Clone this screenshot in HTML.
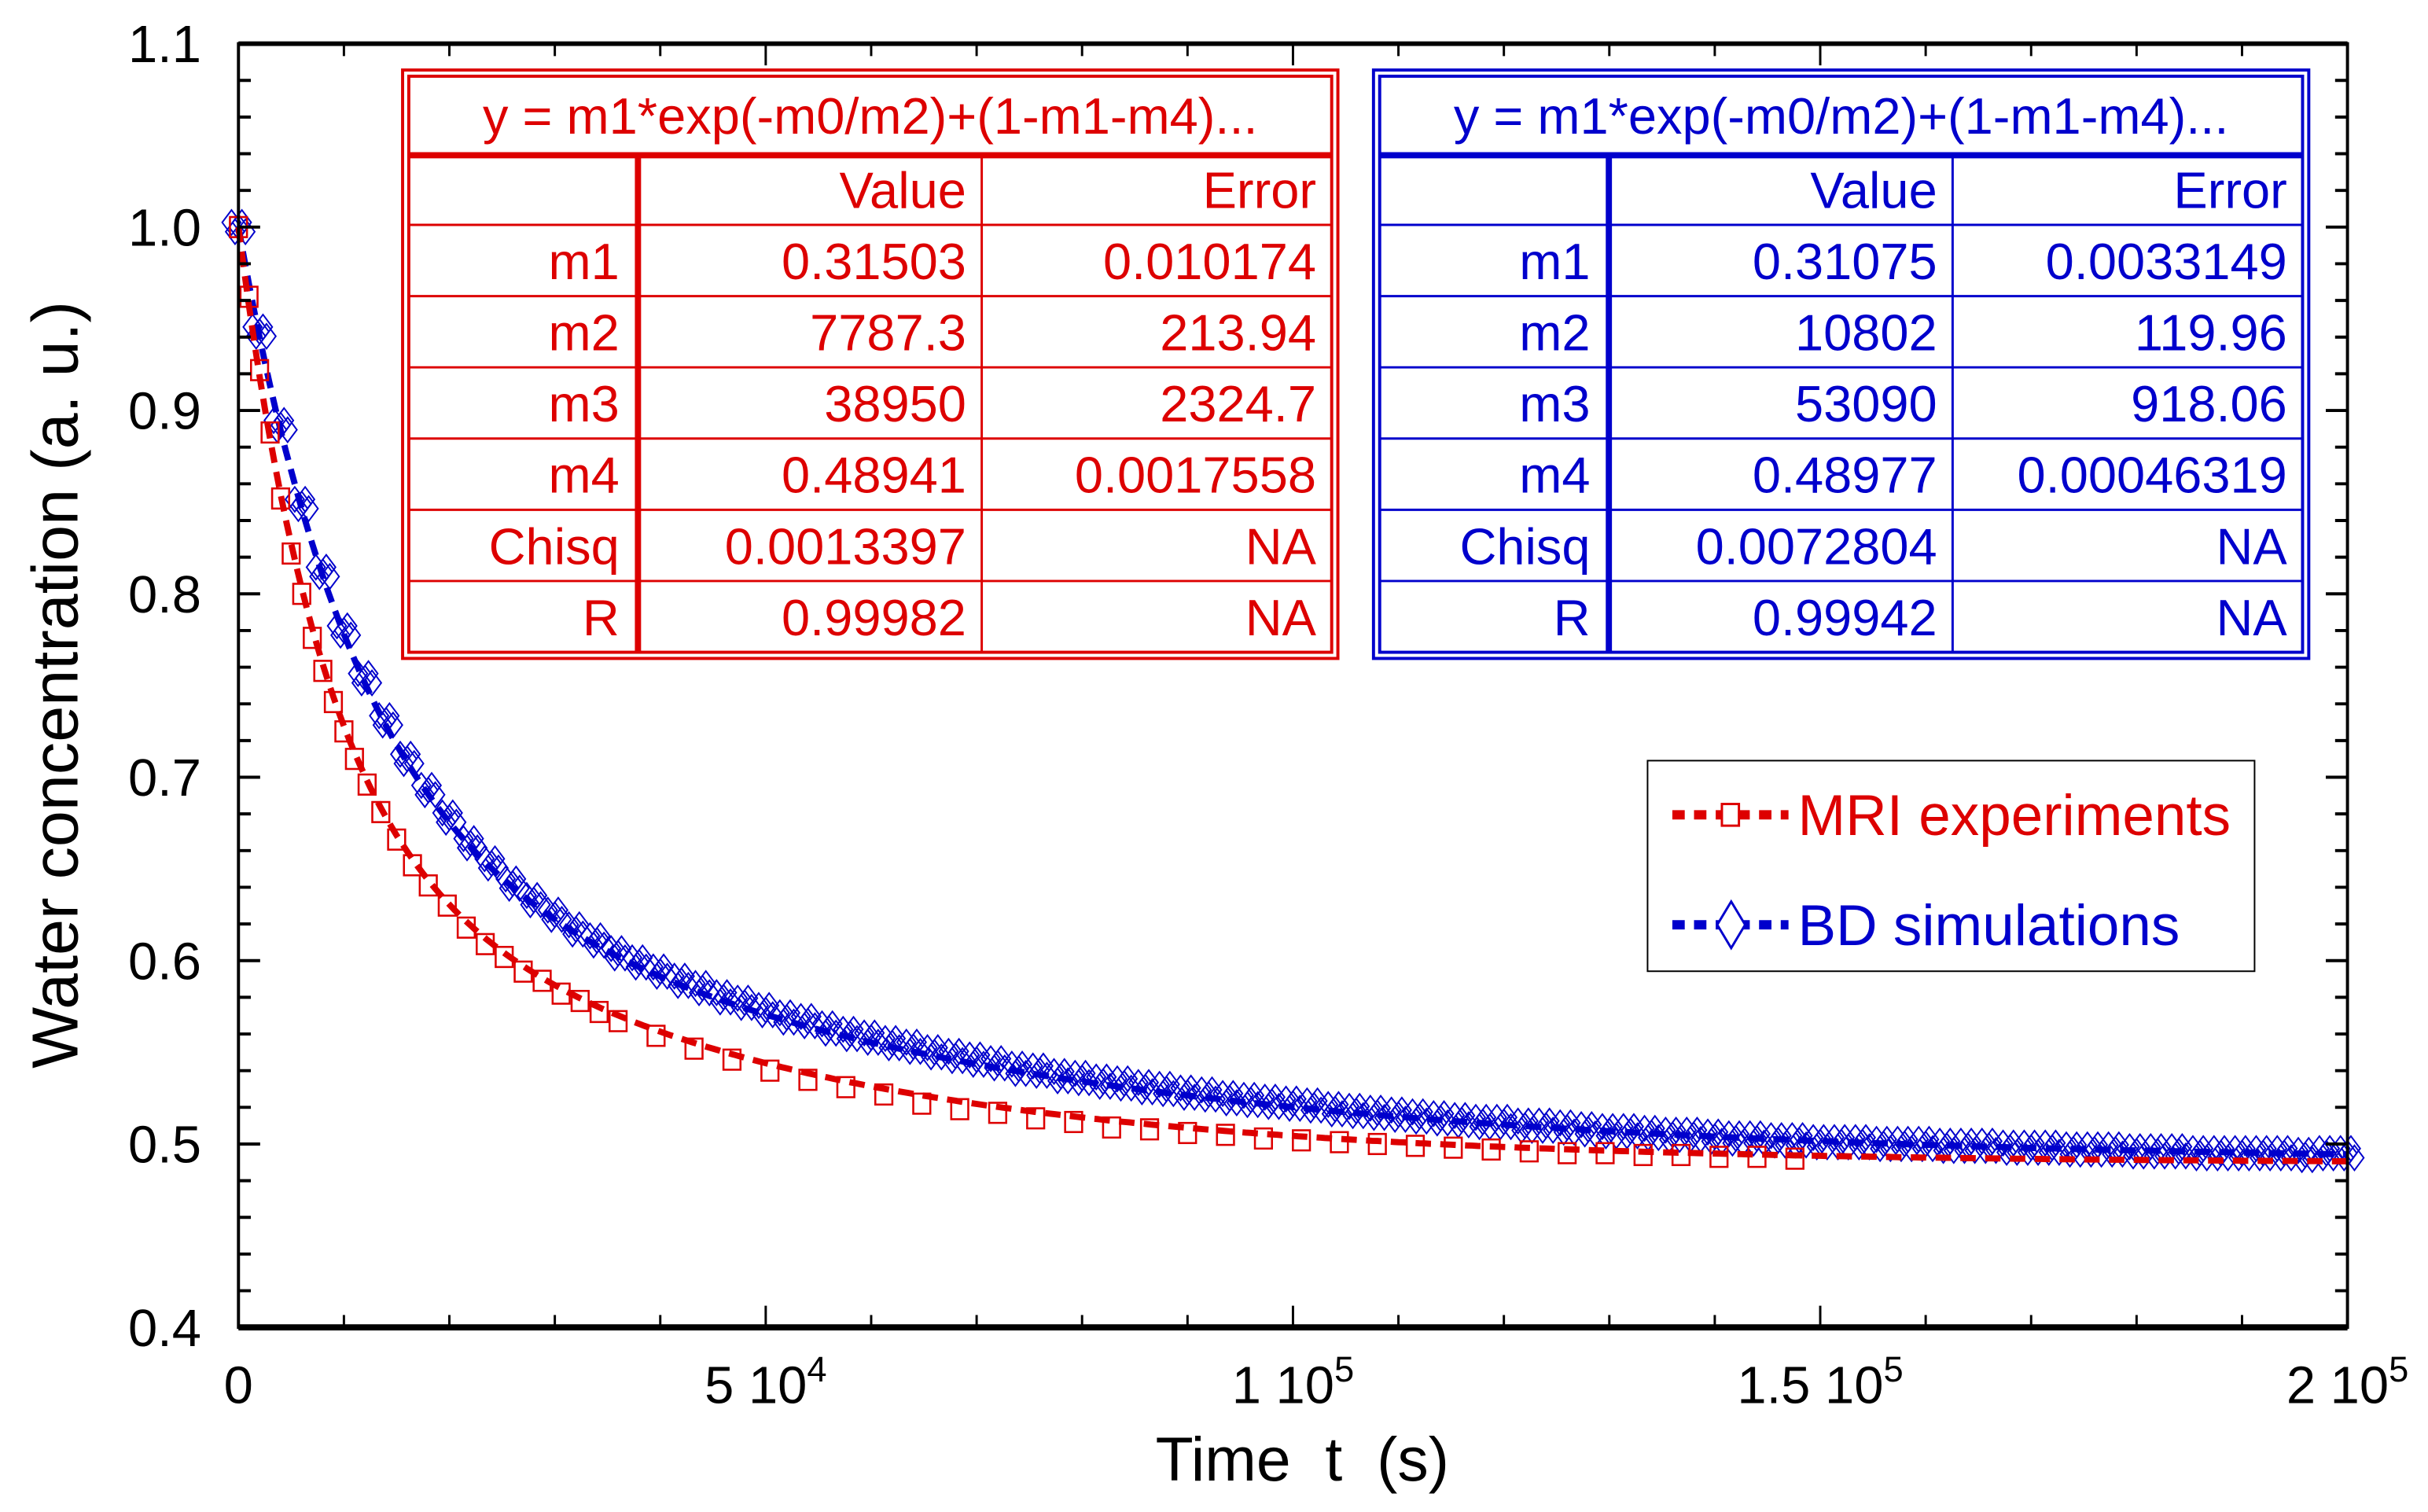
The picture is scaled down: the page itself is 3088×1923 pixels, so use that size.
<!DOCTYPE html>
<html><head><meta charset="utf-8"><style>
html,body{margin:0;padding:0;background:#fff;}
svg{display:block;font-family:"Liberation Sans",sans-serif;}
</style></head><body>
<svg id="chart" xmlns="http://www.w3.org/2000/svg" width="3088" height="1923" viewBox="0 0 1568 976">
<rect x="0" y="0" width="1568" height="976" fill="#fff"/>
<g id="marks"></g>
<g id="axes"></g>
<g id="tables"></g>
<g id="legend">
  <rect x="1064" y="491" width="392" height="136" fill="#fff" stroke="#000" stroke-width="1"/>
  <g>
    <line x1="1080" y1="526" x2="1155" y2="526" stroke="#dd0000" stroke-width="6" stroke-dasharray="8,6"/>
    <rect x="1112" y="519" width="11" height="14" fill="#fff" stroke="#dd0000" stroke-width="1.5"/>
    <text x="1161" y="539" font-size="37" fill="#dd0000">MRI experiments</text>
  </g>
  <g>
    <line x1="1080" y1="597" x2="1155" y2="597" stroke="#0000cc" stroke-width="6" stroke-dasharray="8,6"/>
    <path d="M1118 582 L1127 597 L1118 612 L1109 597 Z" fill="#fff" stroke="#0000cc" stroke-width="1.5"/>
    <text x="1161" y="610" font-size="37" fill="#0000cc">BD simulations</text>
  </g>
</g>
</svg>
<script>
// ---- data ----
const redTimes = [0,1000,2000,3000,4000,5000,6000,7000,8000,9000,10000,11000,12200,13500,15000,16500,18000,19800,21600,23400,25200,27000,28800,30600,32400,34200,36000,39600,43200,46800,50400,54000,57600,61200,64800,68400,72000,75600,79200,82800,86400,90000,93600,97200,100800,104400,108000,111600,115200,118800,122400,126000,129600,133200,136800,140400,144000,147600];
const redValues = [1.000,0.962,0.922,0.888,0.852,0.822,0.800,0.776,0.758,0.741,0.725,0.710,0.696,0.681,0.666,0.652,0.641,0.630,0.618,0.609,0.602,0.594,0.589,0.582,0.578,0.572,0.567,0.559,0.552,0.546,0.540,0.535,0.531,0.527,0.522,0.519,0.517,0.514,0.512,0.509,0.508,0.506,0.505,0.503,0.502,0.501,0.500,0.499,0.498,0.497,0.496,0.495,0.495,0.494,0.494,0.493,0.493,0.492];
const blueStep = 2000;
const blueValues = [1.000,0.943,0.892,0.849,0.812,0.780,0.754,0.731,0.710,0.693,0.678,0.664,0.653,0.642,0.633,0.625,0.617,0.611,0.604,0.599,0.594,0.589,0.585,0.580,0.577,0.573,0.569,0.567,0.563,0.560,0.558,0.555,0.553,0.550,0.548,0.546,0.544,0.541,0.540,0.537,0.536,0.534,0.533,0.531,0.530,0.528,0.527,0.525,0.524,0.523,0.522,0.521,0.519,0.518,0.517,0.516,0.515,0.514,0.513,0.512,0.512,0.510,0.510,0.509,0.508,0.507,0.507,0.506,0.505,0.505,0.504,0.503,0.503,0.502,0.502,0.501,0.501,0.501,0.500,0.500,0.500,0.499,0.499,0.499,0.498,0.498,0.498,0.497,0.497,0.497,0.496,0.496,0.496,0.495,0.495,0.495,0.495,0.495,0.494,0.495,0.495];
const redFit = [0.31503,7787.3,38950,0.48941];
const blueFit = [0.31075,10802,53090,0.48977];
const xTickValues = [0,50000,100000,150000,200000];
const xTickMain = ["0","5 10","1 10","1.5 10","2 10"];
const xTickExp = ["","4","5","5","5"];
const yTickValues = [0.4,0.5,0.6,0.7,0.8,0.9,1.0,1.1];
const yTickLabels = ["0.4","0.5","0.6","0.7","0.8","0.9","1.0","1.1"];
const tableRowLabels = ["m1","m2","m3","m4","Chisq","R"];
const redTableValues = ["0.31503","7787.3","38950","0.48941","0.0013397","0.99982"];
const redTableErrors = ["0.010174","213.94","2324.7","0.0017558","NA","NA"];
const blueTableValues = ["0.31075","10802","53090","0.48977","0.0072804","0.99942"];
const blueTableErrors = ["0.0033149","119.96","918.06","0.00046319","NA","NA"];

// ---- axes ----
const L=154,R=1516,T=28,B=857,XMAX=200000,YMIN=0.4,YMAX=1.1;
function X(t){return L+t/XMAX*(R-L);}
function Y(v){return B-(v-YMIN)/(YMAX-YMIN)*(B-T);}
const NS="http://www.w3.org/2000/svg";
function mk(tag,attrs,parent,text){const e=document.createElementNS(NS,tag);for(const k in attrs)e.setAttribute(k,attrs[k]);if(text!==undefined)e.textContent=text;parent.appendChild(e);return e;}
const RED="#dd0000",BLUE="#0000cc";
const marks=document.getElementById('marks');
function fit(p,t){return p[0]*Math.exp(-t/p[1])+(1-p[0]-p[3])*Math.exp(-t/p[2])+p[3];}
function fitPath(p){let d="";for(let t=0;t<=XMAX;t+=500){d+=(t?"L":"M")+X(t).toFixed(1)+" "+Y(fit(p,t)).toFixed(1);}return d;}

// blue series (each marker drawn as a small overlapping cluster to render the dense band)
const bg=mk('g',{},marks);


const cluster=[[-4.5,-3],[-2.2,3],[0,0],[2.2,-3],[4.5,3]];
blueValues.forEach((v,i)=>{const x0=X(i*blueStep),y0=Y(v);
  cluster.forEach(o=>{const x=x0+o[0],y=y0+o[1];
    const p=mk('path',{d:`M${x} ${y-8}L${x+6} ${y}L${x} ${y+8}L${x-6} ${y}Z`,fill:'none',stroke:BLUE,'stroke-width':1},bg);
    
    
  });
});
const bf=mk('path',{d:fitPath(blueFit),fill:'none',stroke:BLUE,'stroke-width':4,'stroke-dasharray':'10,6'},marks);



// red series
const rg=mk('g',{},marks);


redTimes.forEach((t,i)=>{const x=X(t),y=Y(redValues[i]);
  const r=mk('rect',{x:x-5.5,y:y-6.5,width:11,height:13,fill:'none',stroke:RED,'stroke-width':1.3},rg);
  
  
});
const rf=mk('path',{d:fitPath(redFit),fill:'none',stroke:RED,'stroke-width':4,'stroke-dasharray':'10,6'},marks);



const ax=document.getElementById('axes');
const frame=mk('rect',{x:L,y:T,width:R-L,height:B-T,fill:'none',stroke:'#000','stroke-width':2},ax);


const bl=mk('line',{x1:L,y1:B,x2:R,y2:B,stroke:'#000','stroke-width':4},ax);


const tl=mk('line',{x1:L,y1:T,x2:R,y2:T,stroke:'#000','stroke-width':3},ax);


for(let t=0;t<=XMAX;t+=10000){const x=X(t),len=(t%50000===0)?14:8;
  mk('line',{x1:x,y1:B,x2:x,y2:B-len,stroke:'#000','stroke-width':1.5},ax);
  mk('line',{x1:x,y1:T,x2:x,y2:T+len,stroke:'#000','stroke-width':1.5},ax);}
for(let k=0;k<=35;k++){const v=YMIN+k*0.02,y=Y(v),len=(k%5===0)?14:8;
  mk('line',{x1:L,y1:y,x2:L+len,y2:y,stroke:'#000','stroke-width':2},ax);
  mk('line',{x1:R,y1:y,x2:R-len,y2:y,stroke:'#000','stroke-width':2},ax);}
xTickValues.forEach((t,i)=>{const g=mk('text',{x:X(t),y:906,'font-size':34,'text-anchor':'middle',fill:'#000'},ax);
  
  
  mk('tspan',{},g,xTickMain[i]);
  if(xTickExp[i]){mk('tspan',{dy:-14,'font-size':23},g,xTickExp[i]);}
});
yTickValues.forEach((v,i)=>{const e=mk('text',{x:130,y:Y(v)+12,'font-size':34,'text-anchor':'end',fill:'#000'},ax,yTickLabels[i]);
  
  });
const xt=mk('text',{x:841,y:956,'font-size':40,'text-anchor':'middle',fill:'#000'},ax,'Time\u00a0\u00a0t\u00a0\u00a0(s)');


const yt=mk('text',{x:0,y:0,'font-size':42,'text-anchor':'middle',fill:'#000',transform:'translate(50,442) rotate(-90)'},ax,'Water concentration (a. u.)');



// ---- tables ----
const tb=document.getElementById('tables');
function table(x0,color,vals,errs,name){
  const g=mk('g',{},tb);
  
  
  const w=604,c1=x0+152,c2=x0+374,right=x0+w;
  mk('rect',{x:x0,y:45,width:w,height:380,fill:'#fff',stroke:color,'stroke-width':2},g);
  mk('rect',{x:x0+4,y:49,width:w-8,height:372,fill:'none',stroke:color,'stroke-width':2},g);
  mk('line',{x1:x0+4,y1:100,x2:right-4,y2:100,stroke:color,'stroke-width':4},g);
  mk('line',{x1:c1,y1:100,x2:c1,y2:421,stroke:color,'stroke-width':4},g);
  mk('line',{x1:c2,y1:100,x2:c2,y2:421,stroke:color,'stroke-width':1.5},g);
  const rows=[100,145,191,237,283,329,375,421];
  for(let i=1;i<rows.length-1;i++)mk('line',{x1:x0+4,y1:rows[i],x2:right-4,y2:rows[i],stroke:color,'stroke-width':1.5},g);
  mk('text',{x:x0+w/2,y:86,'font-size':33,'text-anchor':'middle',fill:color},g,'y = m1*exp(-m0/m2)+(1-m1-m4)...');
  mk('text',{x:c2-10,y:134,'font-size':33,'text-anchor':'end',fill:color},g,'Value');
  mk('text',{x:right-14,y:134,'font-size':33,'text-anchor':'end',fill:color},g,'Error');
  tableRowLabels.forEach((lab,i)=>{const y=rows[i+1]+35;
    mk('text',{x:c1-12,y:y,'font-size':33,'text-anchor':'end',fill:color},g,lab);
    mk('text',{x:c2-10,y:y,'font-size':33,'text-anchor':'end',fill:color},g,vals[i]);
    mk('text',{x:right-14,y:y,'font-size':33,'text-anchor':'end',fill:color},g,errs[i]);});
}
table(260,RED,redTableValues,redTableErrors,'mri-fit-table');
table(887,BLUE,blueTableValues,blueTableErrors,'bd-fit-table');
</script>
</body></html>
